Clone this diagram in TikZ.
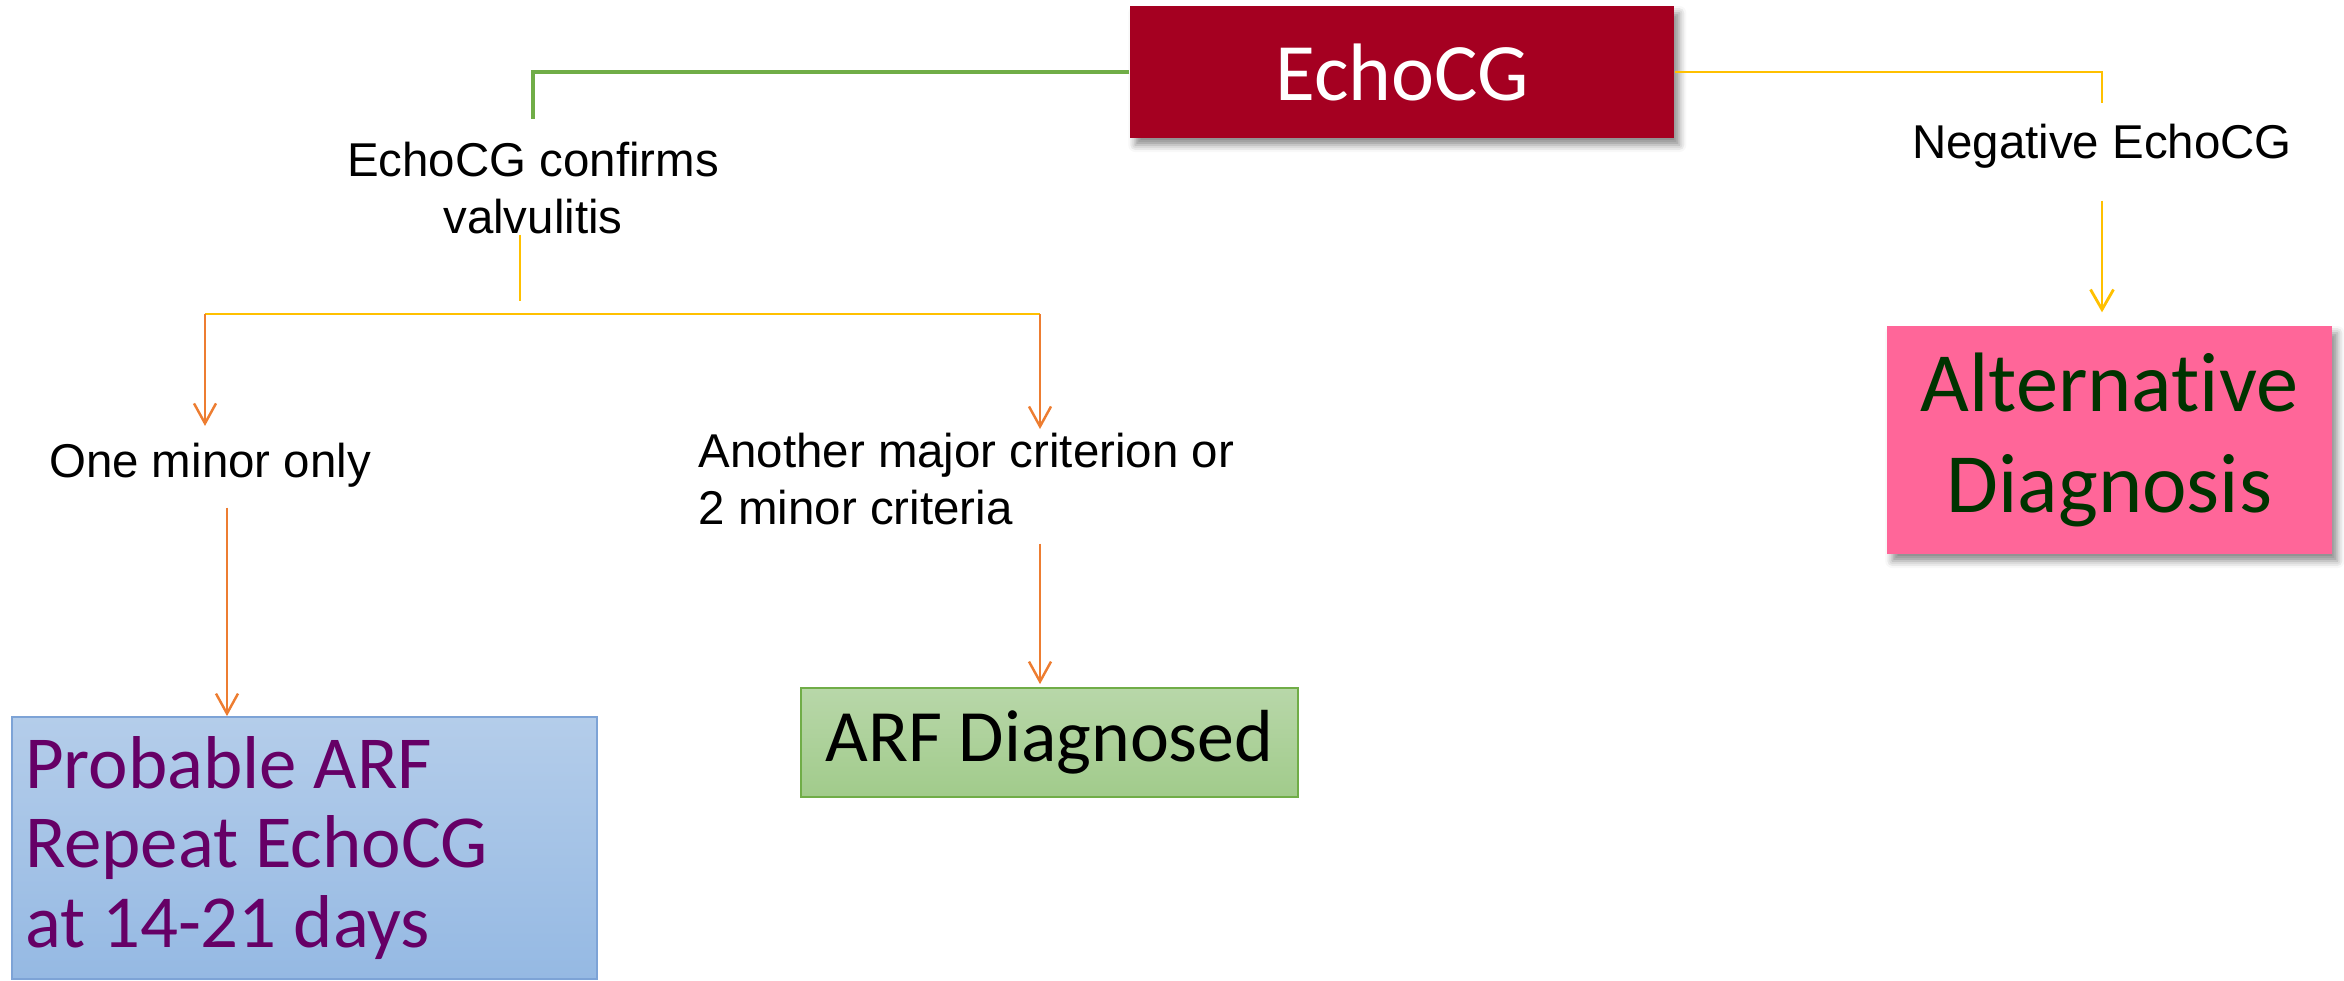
\documentclass[tikz,border=0pt]{standalone}
\usepackage{fontspec}
\setmainfont{Carlito}[Ligatures=NoCommon]
\newfontfamily\arialfont{Liberation Sans}
\usepackage{tikz}
\usetikzlibrary{arrows.meta, positioning, shadows.blur}
\definecolor{echoRed}{RGB}{165,0,33}
\definecolor{echoGreen}{RGB}{112,173,71}
\definecolor{echoYellow}{RGB}{255,192,0}
\definecolor{echoOrange}{RGB}{237,125,49}
\definecolor{echoPink}{RGB}{255,102,153}
\definecolor{echoPurple}{RGB}{102,0,102}
\definecolor{echoDarkGreen}{RGB}{0,51,0}
\definecolor{boxBlueTop}{RGB}{180,205,234}
\definecolor{boxBlueBot}{RGB}{149,185,227}
\definecolor{boxBlueLine}{RGB}{125,163,214}
\definecolor{boxGreenTop}{RGB}{184,215,169}
\definecolor{boxGreenBot}{RGB}{161,203,139}

\begin{document}
\begin{tikzpicture}[
  labeltext/.style={font=\arialfont\fontsize{13.5pt}{16.3pt}\selectfont, inner sep=0pt},
  dropshadow/.style={blur shadow={shadow xshift=1.5pt, shadow yshift=-2pt,
                     shadow blur radius=2pt, shadow opacity=45}},
  echobox/.style={rectangle, fill=echoRed, text=white, dropshadow,
                  minimum width=5.44cm, minimum height=1.32cm,
                  font=\fontsize{23.2pt}{27pt}\selectfont},
  bluebox/.style={rectangle, draw=boxBlueLine, line width=0.5pt,
                  top color=boxBlueTop, bottom color=boxBlueBot,
                  text=echoPurple, text width=5.59cm, inner xsep=0.13cm,
                  minimum height=2.62cm, align=flush left,
                  font=\fontsize{21.3pt}{22.7pt}\selectfont},
  greenbox/.style={rectangle, draw=echoGreen, line width=0.5pt,
                   top color=boxGreenTop, bottom color=boxGreenBot,
                   minimum width=4.97cm, minimum height=1.09cm,
                   font=\fontsize{21pt}{25pt}\selectfont},
  pinkbox/.style={rectangle, fill=echoPink, text=echoDarkGreen, dropshadow,
                  minimum width=4.45cm, minimum height=2.28cm, align=center,
                  font=\fontsize{24pt}{28.6pt}\selectfont},
  greenline/.style={draw=echoGreen, line width=0.9pt},
  yellowline/.style={draw=echoYellow, line width=0.8pt},
  yellowarrow/.style={yellowline, -{Straight Barb[length=2mm,width=2.3mm]}},
  orangearrow/.style={draw=echoOrange, line width=0.7pt,
                      -{Straight Barb[length=2mm,width=2.2mm]}}
]
\useasboundingbox (0,0) rectangle (23.44,-9.8);

% top box
\node[echobox] (echo) at (14.02,-0.72) {EchoCG};

% left branch
\node[labeltext, align=center, anchor=north] (confirms) at (5.33,-1.41) {EchoCG confirms\\valvulitis};
\coordinate (busL) at (2.05,-3.14);
\coordinate (busR) at (10.40,-3.14);
\node[labeltext, anchor=base] (minor) at (2.10,-4.77) {One minor only};
\node[labeltext, align=left, anchor=north west] (another) at (6.98,-4.32) {Another major criterion or\\2 minor criteria};
\node[bluebox] (probable) at (3.045,-8.48) {Probable ARF\\Repeat EchoCG\\at 14-21 days};
\node[greenbox] (arfdx) at (10.495,-7.425) {ARF Diagnosed};

% right branch
\node[labeltext, anchor=base] (negative) at (21.02,-1.58) {Negative EchoCG};
\node[pinkbox] (altdx) at (21.095,-4.40) {Alternative\\Diagnosis};

% connectors
\draw[greenline, shorten >=0.22cm] (echo.west) -| (confirms.north);
\draw[yellowline, shorten >=0.2cm] (echo.east) -| (negative.north);
\draw[yellowline, shorten >=0.13cm] ([xshift=-1.3mm]confirms.south) -- ([xshift=-1.3mm]confirms.south |- busL);
\draw[yellowline] (busL) -- (busR);
\draw[orangearrow, shorten >=0.16cm] (busL) -- (busL |- minor.north);
\draw[orangearrow, shorten <=0.2cm] ([xshift=1.7mm]minor.south) -- ([xshift=1.7mm]minor.south |- probable.north);
\draw[orangearrow, shorten >=0.03cm] (busR) -- (busR |- another.north);
\draw[orangearrow, shorten <=0.18cm, shorten >=0.03cm] (another.south -| busR) -- (busR |- arfdx.north);
\draw[yellowarrow, shorten <=0.32cm, shorten >=0.13cm] (negative.south) -- (negative.south |- altdx.north);
\end{tikzpicture}
\end{document}
